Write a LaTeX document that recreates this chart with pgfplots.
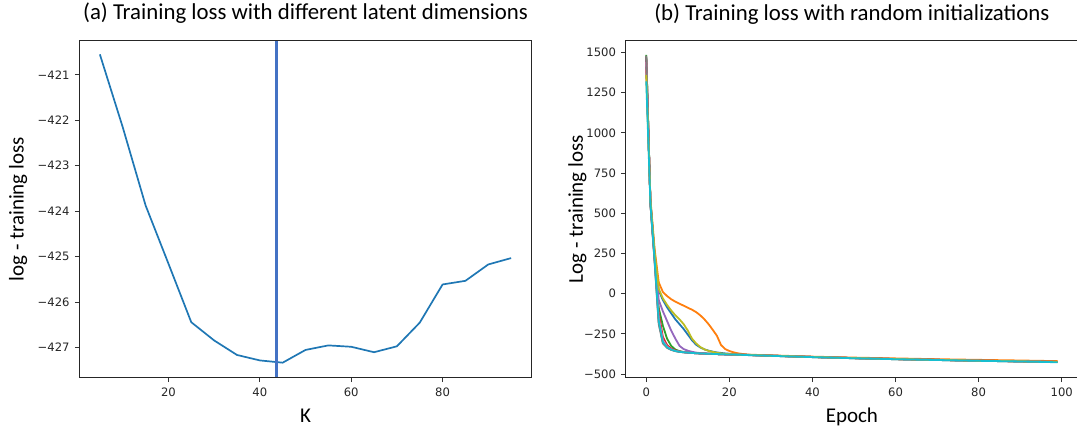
\documentclass[border=0pt]{standalone}
\usepackage{pgfplots}
\pgfplotsset{compat=1.18}
\usepackage{fontspec}
\setmainfont{Carlito}
\newfontfamily\dejavu{DejaVu Sans}
\definecolor{C0}{HTML}{1F77B4}
\definecolor{C1}{HTML}{FF7F0E}
\definecolor{C2}{HTML}{2CA02C}
\definecolor{C3}{HTML}{D62728}
\definecolor{C4}{HTML}{9467BD}
\definecolor{C5}{HTML}{8C564B}
\definecolor{C6}{HTML}{E377C2}
\definecolor{C7}{HTML}{7F7F7F}
\definecolor{C8}{HTML}{BCBD22}
\definecolor{C9}{HTML}{17BECF}
\definecolor{vline}{HTML}{4472C4}
\pgfplotsset{
  myax/.style={
    scale only axis, width=452.4pt, height=337pt,
    anchor=south west,
    tick align=outside, tick pos=left,
    major tick length=4.5pt,
    every tick/.style={black!80, line width=0.8pt},
    axis line style={draw=none},
    clip=false,
    /pgf/number format/assume math mode=true,
    ticklabel style={font=\dejavu\fontsize{11.6}{13}\selectfont, text=black!85},
    xticklabel style={inner sep=0pt, anchor=north, yshift=-5pt},
    yticklabel style={inner sep=0pt, anchor=east, xshift=-5pt},
    label style={font=\fontsize{21}{24}\selectfont},
    title style={font=\fontsize{22.8}{26}\selectfont, at={(axis description cs:0.5,1.0436)}, anchor=base},
    xlabel style={at={(axis description cs:0.5,-0.1315)}, anchor=base},
    every axis plot/.append style={line width=1.8pt, line join=round},
  }
}
\begin{document}
\begin{tikzpicture}
\useasboundingbox (0,0) rectangle (1077pt,427pt);
% ---------- (a) ----------
\begin{axis}[myax,
  at={(79.3pt,49.3pt)},
  title={(a) Training loss with different latent dimensions},
  xlabel={K},
  ylabel={log - training loss},
  ylabel style={at={(axis description cs:-0.1233,0.5)}, anchor=base, rotate=0},
  xmin=0.5, xmax=99.5, ymin=-427.66, ymax=-420.25,
  xtick={20,40,60,80},
  xticklabels={20,40,60,80},
  ytick={-427,-426,-425,-424,-423,-422,-421},
  yticklabels={−427,−426,−425,−424,−423,−422,−421},
]
\addplot[C0, line width=1.7pt] coordinates {
(5,-420.55) (10,-422.15) (15,-423.87) (20,-425.15) (25,-426.44) (30,-426.84)
(35,-427.16) (40,-427.28) (45,-427.33) (50,-427.05) (55,-426.95) (60,-426.98)
(65,-427.10) (70,-426.97) (75,-426.45) (80,-425.61) (85,-425.53) (90,-425.17)
(95,-425.03)};
\addplot[vline, line width=2.8pt] coordinates {(43.6,-427.66) (43.6,-420.25)};
\draw[black!85, line width=0.9pt] (rel axis cs:0,0) rectangle (rel axis cs:1,1);
\end{axis}
% ---------- (b) ----------
\begin{axis}[myax,
  at={(625.7pt,49.3pt)},
  title={(b) Training loss with random initializations},
  xlabel={Epoch},
  ylabel={Log - training loss},
  ylabel style={at={(axis description cs:-0.0944,0.5)}, anchor=base, rotate=0},
  xmin=-4.95, xmax=103.95, ymin=-523, ymax=1573,
  xtick={0,20,40,60,80,100},
  xticklabels={0,20,40,60,80,100},
  ytick={-500,-250,0,250,500,750,1000,1250,1500},
  yticklabels={−500,−250,0,250,500,750,1000,1250,1500},
]
\addplot[C0] coordinates {
(0,1420) (1,575) (2,250) (3,20) (4,-40) (5,-85) (6,-123) (7,-160) (8,-190) (9,-220)
(10,-255) (11,-290) (12,-318) (13,-335) (14,-347) (15,-355) (16,-361) (17,-366) (18,-369) (19,-372)
(20,-374) (21,-376) (22,-378) (23,-379) (24,-380) (25,-381) (30,-386) (40,-394) (50,-401)
(60,-407) (70,-412) (80,-417) (90,-421) (99,-425)};
\addplot[C1] coordinates {
(0,1400) (1,590) (2,280) (3,70) (4,10) (5,-15) (6,-35) (7,-50) (8,-63) (9,-75)
(10,-88) (11,-100) (12,-115) (13,-135) (14,-160) (15,-190) (16,-225) (17,-262) (18,-320) (19,-345)
(20,-357) (21,-365) (22,-371) (23,-375) (24,-378) (25,-380) (30,-384) (40,-392) (50,-398)
(60,-403) (70,-408) (80,-412) (90,-416) (99,-420)};
\addplot[C2] coordinates {
(0,1485) (1,570) (2,230) (3,-90) (4,-200) (5,-280) (6,-325) (7,-348) (8,-358) (9,-363)
(10,-366) (11,-368) (12,-370) (13,-372) (14,-373) (15,-374) (16,-375) (17,-376) (18,-377) (19,-378)
(20,-379) (21,-380) (22,-380) (23,-381) (24,-382) (25,-382) (30,-387) (40,-395) (50,-402)
(60,-408) (70,-413) (80,-418) (90,-422) (99,-426)};
\addplot[C3] coordinates {
(0,1450) (1,565) (2,220) (3,-120) (4,-270) (5,-320) (6,-342) (7,-353) (8,-360) (9,-364)
(10,-367) (11,-369) (12,-371) (13,-372) (14,-373) (15,-374) (16,-375) (17,-376) (18,-377) (19,-378)
(20,-379) (21,-379) (22,-380) (23,-381) (24,-381) (25,-382) (30,-386) (40,-394) (50,-401)
(60,-407) (70,-412) (80,-417) (90,-421) (99,-425)};
\addplot[C4] coordinates {
(0,1470) (1,570) (2,235) (3,-40) (4,-110) (5,-170) (6,-230) (7,-280) (8,-325) (9,-345)
(10,-355) (11,-362) (12,-367) (13,-370) (14,-372) (15,-374) (16,-375) (17,-376) (18,-377) (19,-378)
(20,-379) (21,-380) (22,-380) (23,-381) (24,-382) (25,-383) (30,-387) (40,-395) (50,-402)
(60,-408) (70,-413) (80,-418) (90,-422) (99,-426)};
\addplot[C5] coordinates {
(0,1475) (1,560) (2,210) (3,-180) (4,-305) (5,-335) (6,-349) (7,-357) (8,-362) (9,-365)
(10,-367) (11,-369) (12,-371) (13,-372) (14,-373) (15,-374) (16,-375) (17,-376) (18,-377) (19,-377)
(20,-378) (21,-379) (22,-379) (23,-380) (24,-381) (25,-382) (30,-386) (40,-394) (50,-401)
(60,-407) (70,-412) (80,-417) (90,-421) (99,-425)};
\addplot[C6] coordinates {
(0,1440) (1,565) (2,225) (3,-150) (4,-290) (5,-330) (6,-347) (7,-356) (8,-361) (9,-364)
(10,-367) (11,-369) (12,-371) (13,-372) (14,-373) (15,-374) (16,-375) (17,-376) (18,-377) (19,-377)
(20,-378) (21,-379) (22,-379) (23,-380) (24,-381) (25,-382) (30,-386) (40,-394) (50,-401)
(60,-407) (70,-412) (80,-417) (90,-421) (99,-425)};
\addplot[C7] coordinates {
(0,1480) (1,555) (2,200) (3,-190) (4,-310) (5,-337) (6,-350) (7,-358) (8,-362) (9,-365)
(10,-367) (11,-369) (12,-371) (13,-372) (14,-373) (15,-374) (16,-375) (17,-376) (18,-377) (19,-377)
(20,-378) (21,-379) (22,-379) (23,-380) (24,-381) (25,-382) (30,-386) (40,-394) (50,-401)
(60,-407) (70,-412) (80,-417) (90,-421) (99,-425)};
\addplot[C8] coordinates {
(0,1360) (1,580) (2,260) (3,30) (4,-30) (5,-70) (6,-105) (7,-135) (8,-160) (9,-190)
(10,-230) (11,-280) (12,-310) (13,-332) (14,-347) (15,-356) (16,-363) (17,-368) (18,-372) (19,-375)
(20,-377) (21,-378) (22,-379) (23,-380) (24,-381) (25,-382) (30,-386) (40,-394) (50,-401)
(60,-407) (70,-412) (80,-417) (90,-421) (99,-425)};
\addplot[C9] coordinates {
(0,1320) (1,560) (2,215) (3,-170) (4,-300) (5,-333) (6,-348) (7,-357) (8,-362) (9,-365)
(10,-367) (11,-369) (12,-371) (13,-372) (14,-373) (15,-374) (16,-375) (17,-376) (18,-377) (19,-378)
(20,-379) (21,-379) (22,-380) (23,-381) (24,-382) (25,-383) (30,-387) (40,-395) (50,-402)
(60,-408) (70,-413) (80,-418) (90,-422) (99,-427)};
\draw[black!85, line width=0.9pt] (rel axis cs:1,1) -- (rel axis cs:0,1) -- (rel axis cs:0,0) -- (rel axis cs:1,0);
\end{axis}
\end{tikzpicture}
\end{document}
